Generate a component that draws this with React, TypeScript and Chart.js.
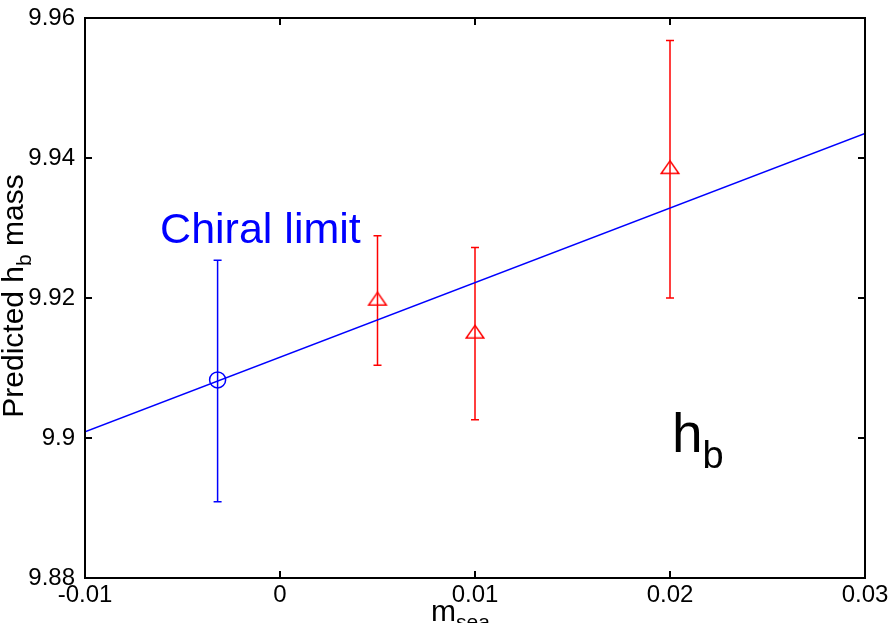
import { useEffect, useRef } from 'react';
import { Chart, registerables } from 'chart.js';

Chart.register(...registerables);

const xTicks = [-0.01, 0, 0.01, 0.02, 0.03];
const xTickLabels = ['-0.01', '0', '0.01', '0.02', '0.03'];
const yTicks = [9.88, 9.9, 9.92, 9.94, 9.96];
const yTickLabels = ['9.88', '9.9', '9.92', '9.94', '9.96'];

const fitX = [-0.01, 0.03];
const fitY = [9.9009, 9.9435];

const chiralX = [-0.0032];
const chiralY = [9.9083];
const chiralLow = [9.8909];
const chiralHigh = [9.9254];

const measX = [0.005, 0.01, 0.02];
const measY = [9.9196, 9.9149, 9.9384];
const measLow = [9.9104, 9.9026, 9.92];
const measHigh = [9.9289, 9.9272, 9.9568];

const chiralText = 'Chiral limit';
const chiralTextPos = [-0.00615, 9.9279];
const hbMain = 'h';
const hbSub = 'b';
const hbPos = [0.0201, 9.898];
const yTitleMain = ['Predicted h', 'b', ' mass'];
const xTitle = ['m', 'sea'];

const FONT = '"Liberation Sans", Arial, Helvetica, sans-serif';
const BLUE = '#0000ff';
const RED = '#ff0000';

function makeTriangle(): HTMLCanvasElement {
  const c = document.createElement('canvas');
  c.width = 22;
  c.height = 26;
  const g = c.getContext('2d')!;
  g.strokeStyle = RED;
  g.lineWidth = 1.5;
  g.beginPath();
  g.moveTo(11, 13 - 8.4);
  g.lineTo(11 - 8.8, 13 + 4.2);
  g.lineTo(11 + 8.8, 13 + 4.2);
  g.closePath();
  g.stroke();
  return c;
}

const overlay = {
  id: 'overlay',
  beforeDatasetsDraw(chart: any) {
    const ctx = chart.ctx;
    const xs = chart.scales.x;
    const ys = chart.scales.y;
    const bar = (x: number, lo: number, hi: number, color: string) => {
      const px = xs.getPixelForValue(x);
      const p1 = ys.getPixelForValue(lo);
      const p2 = ys.getPixelForValue(hi);
      ctx.save();
      ctx.strokeStyle = color;
      ctx.lineWidth = 1.5;
      ctx.beginPath();
      ctx.moveTo(px, p1);
      ctx.lineTo(px, p2);
      ctx.moveTo(px - 4, p1);
      ctx.lineTo(px + 4, p1);
      ctx.moveTo(px - 4, p2);
      ctx.lineTo(px + 4, p2);
      ctx.stroke();
      ctx.restore();
    };
    chiralX.forEach((x, i) => bar(x, chiralLow[i], chiralHigh[i], BLUE));
    measX.forEach((x, i) => bar(x, measLow[i], measHigh[i], RED));
  },
  afterDraw(chart: any) {
    const ctx = chart.ctx;
    const xs = chart.scales.x;
    const ys = chart.scales.y;
    const { left, right, top, bottom } = chart.chartArea;
    ctx.save();
    // frame
    ctx.strokeStyle = '#000';
    ctx.lineWidth = 2;
    ctx.strokeRect(left, top, right - left, bottom - top);
    // inward ticks
    const tl = 7;
    ctx.beginPath();
    xTicks.forEach((v) => {
      const px = xs.getPixelForValue(v);
      ctx.moveTo(px, bottom);
      ctx.lineTo(px, bottom - tl);
      ctx.moveTo(px, top);
      ctx.lineTo(px, top + tl);
    });
    yTicks.forEach((v) => {
      const py = ys.getPixelForValue(v);
      ctx.moveTo(left, py);
      ctx.lineTo(left + tl, py);
      ctx.moveTo(right, py);
      ctx.lineTo(right - tl, py);
    });
    ctx.stroke();

    ctx.textBaseline = 'alphabetic';
    ctx.textAlign = 'left';
    // Chiral limit label
    ctx.fillStyle = BLUE;
    ctx.font = `43px ${FONT}`;
    ctx.fillText(chiralText, xs.getPixelForValue(chiralTextPos[0]), ys.getPixelForValue(chiralTextPos[1]));

    // h_b label
    ctx.fillStyle = '#000';
    const hx = xs.getPixelForValue(hbPos[0]);
    const hy = ys.getPixelForValue(hbPos[1]);
    ctx.font = `55px ${FONT}`;
    ctx.fillText(hbMain, hx, hy);
    const hw = ctx.measureText(hbMain).width;
    ctx.font = `38px ${FONT}`;
    ctx.fillText(hbSub, hx + hw, hy + 16);

    // y title
    ctx.save();
    ctx.translate(23, 296);
    ctx.rotate(-Math.PI / 2);
    ctx.font = `30px ${FONT}`;
    const w0 = ctx.measureText(yTitleMain[0]).width;
    const w2 = ctx.measureText(yTitleMain[2]).width;
    ctx.font = `21px ${FONT}`;
    const w1 = ctx.measureText(yTitleMain[1]).width;
    let sx = -(w0 + w1 + w2) / 2;
    ctx.font = `30px ${FONT}`;
    ctx.fillText(yTitleMain[0], sx, 0);
    sx += w0;
    ctx.font = `21px ${FONT}`;
    ctx.fillText(yTitleMain[1], sx, 8);
    sx += w1;
    ctx.font = `30px ${FONT}`;
    ctx.fillText(yTitleMain[2], sx, 0);
    ctx.restore();

    // x title
    ctx.font = `30px ${FONT}`;
    ctx.fillText(xTitle[0], 431, 621);
    const mw = ctx.measureText(xTitle[0]).width;
    ctx.font = `21px ${FONT}`;
    ctx.fillText(xTitle[1], 431 + mw, 629);
    ctx.restore();
  },
};

export default function App() {
  const ref = useRef<HTMLCanvasElement | null>(null);
  useEffect(() => {
    if (!ref.current) return;
    const tri = makeTriangle();
    const fitScale = (s: any, prop: 'width' | 'height', val: number) => {
      s[prop] = val;
      s.paddingLeft = 0;
      s.paddingRight = 0;
      s.paddingTop = 0;
      s.paddingBottom = 0;
    };
    const chart = new Chart(ref.current, {
      type: 'scatter',
      data: {
        datasets: [
          {
            type: 'line',
            data: fitX.map((x, i) => ({ x, y: fitY[i] })),
            borderColor: BLUE,
            borderWidth: 1.5,
            pointRadius: 0,
            fill: false,
          } as any,
          {
            data: chiralX.map((x, i) => ({ x, y: chiralY[i] })),
            pointStyle: 'circle',
            pointRadius: 8,
            borderColor: BLUE,
            backgroundColor: 'rgba(0,0,0,0)',
            borderWidth: 1.5,
          },
          {
            data: measX.map((x, i) => ({ x, y: measY[i] })),
            pointStyle: tri,
            pointRadius: 8,
            borderColor: RED,
            backgroundColor: 'rgba(0,0,0,0)',
            borderWidth: 1.5,
          },
        ],
      },
      options: {
        animation: false,
        responsive: false,
        events: [],
        layout: { padding: { top: 18, right: 25, left: 0, bottom: 0 } },
        plugins: { legend: { display: false }, tooltip: { enabled: false } },
        scales: {
          x: {
            type: 'linear',
            min: xTicks[0],
            max: xTicks[xTicks.length - 1],
            grid: { display: false, drawTicks: false },
            border: { display: false },
            afterBuildTicks: (s: any) => {
              s.ticks = xTicks.map((v) => ({ value: v }));
            },
            afterFit: (s: any) => fitScale(s, 'height', 45),
            ticks: {
              autoSkip: false,
              maxRotation: 0,
              padding: 3,
              color: '#000',
              font: { family: FONT, size: 24 },
              callback: (_v: any, i: number) => xTickLabels[i],
            },
          },
          y: {
            type: 'linear',
            min: yTicks[0],
            max: yTicks[yTicks.length - 1],
            grid: { display: false, drawTicks: false },
            border: { display: false },
            afterBuildTicks: (s: any) => {
              s.ticks = yTicks.map((v) => ({ value: v }));
            },
            afterFit: (s: any) => fitScale(s, 'width', 85),
            ticks: {
              autoSkip: false,
              padding: 10,
              color: '#000',
              font: { family: FONT, size: 24 },
              callback: (_v: any, i: number) => yTickLabels[i],
            },
          },
        },
      },
      plugins: [overlay],
    });
    return () => chart.destroy();
  }, []);
  return (
    <div style={{ position: 'fixed', left: 0, top: 0, width: 890, height: 623, background: '#fff' }}>
      <canvas ref={ref} width={890} height={623} style={{ display: 'block' }} />
    </div>
  );
}
